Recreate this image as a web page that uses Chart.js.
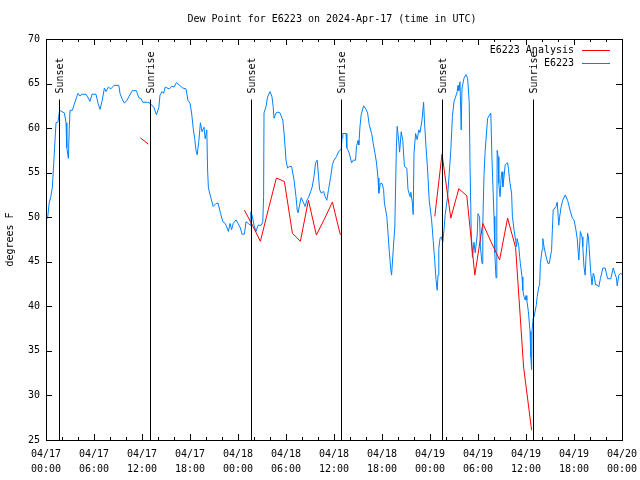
<!DOCTYPE html>
<html>
<head>
<meta charset="utf-8">
<script src="https://cdn.jsdelivr.net/npm/chart.js"></script>
<style>
  body { margin: 0; background: #fff; }
  #wrap { width: 640px; height: 480px; }
</style>
</head>
<body>
<div id="wrap"><canvas id="myChart" width="640" height="480"></canvas></div>
<script>
"use strict";

/* Data (hours since 04/17 00:00 UTC) */
const stationHours = [0,0.2,0.4,0.6,0.8,1,1.25,1.5,1.7,1.9,2.3,2.5,2.6,2.8,2.9,3,3.3,3.5,3.8,4,4.25,4.5,5,5.2,5.5,5.75,6.25,6.5,6.75,7,7.3,7.5,7.8,8.1,8.5,9.1,9.25,9.5,9.8,10.1,10.4,10.8,11.3,11.6,11.9,12.1,12.7,13,13.2,13.5,13.8,14.1,14.25,14.5,14.7,14.9,15.4,15.75,16,16.3,16.7,17.1,17.5,17.75,18,18.2,18.4,18.6,18.75,18.9,19.1,19.3,19.5,19.75,19.9,20.1,20.2,20.3,20.6,20.9,21.2,21.5,21.8,22.1,22.4,22.6,22.8,23,23.2,23.4,23.75,24,24.3,24.5,24.8,25,25.3,25.5,25.6,25.8,26,26.25,26.5,26.9,27.1,27.2,27.25,27.5,27.7,28,28.25,28.4,28.5,28.75,29,29.25,29.6,29.8,30,30.2,30.4,30.7,31,31.25,31.4,31.5,31.75,31.9,32.1,32.4,32.6,32.8,33.1,33.3,33.5,33.7,33.9,34,34.2,34.4,34.7,34.9,35.1,35.3,35.6,35.8,36,36.3,36.6,36.9,37,37.1,37.5,37.6,37.9,38.2,38.4,38.7,38.8,39,39.1,39.25,39.4,39.7,40,40.2,40.4,40.7,40.9,41.1,41.3,41.5,41.6,41.8,42,42.2,42.3,42.6,42.75,42.9,43.1,43.2,43.4,43.6,43.7,43.8,43.9,44.1,44.2,44.4,44.6,44.8,45.1,45.25,45.5,45.6,45.8,45.9,46,46.2,46.4,46.6,46.75,47,47.2,47.3,47.5,47.7,47.9,48.2,48.4,48.6,48.75,48.9,49,49.1,49.25,49.4,49.6,49.75,49.9,50.2,50.4,50.6,50.8,51,51.2,51.4,51.5,51.6,51.75,51.9,52,52.25,52.5,52.7,52.9,53,53.15,53.3,53.5,53.65,53.9,54,54.2,54.3,54.5,54.6,54.75,54.9,55.2,55.6,55.75,56,56.1,56.25,56.35,56.4,56.5,56.6,56.75,56.9,57,57.1,57.25,57.4,57.7,57.8,57.9,58,58.2,58.3,58.5,58.7,58.8,58.9,59.1,59.2,59.3,59.5,59.6,59.75,59.9,60,60.1,60.3,60.5,60.6,60.7,60.75,60.9,61,61.3,61.4,61.6,61.7,61.8,62,62.1,62.25,62.5,62.75,62.9,63.2,63.25,63.4,63.75,63.9,64.1,64.2,64.4,64.6,64.9,65.2,65.5,65.8,66,66.2,66.4,66.6,66.8,67,67.1,67.25,67.4,67.5,67.7,67.8,67.9,68.1,68.25,68.4,68.5,68.7,68.9,69.1,69.3,69.6,69.9,70.2,70.6,70.9,71.1,71.3,71.4,71.6,71.8,72];
const stationValues = [50,49.9,51.6,52.3,53.4,56.6,60.6,60.7,62,61.9,61.7,60.6,57.8,56.6,59.8,62,62,62.6,63.4,63.9,63.6,63.8,63.8,63.5,63,63.8,63.8,62.8,62.1,63,64.5,64.1,64.6,64.4,64.8,64.8,63.9,63.3,62.8,63.1,63.6,64.2,64.2,63.4,63.3,62.9,62.9,62.8,62.6,62.3,61.5,62.3,63.7,64.1,63.9,64.6,64.4,64.7,64.6,65.1,64.8,64.5,64.4,63.1,62.8,61.7,60,58.7,57.5,57,58.5,60.6,59.6,60.1,58.8,59.8,55.3,53.3,52.2,51.2,51.5,51.6,50.5,49.5,49.3,48.9,48.4,49.3,48.6,49.3,49.7,49.3,48.8,48.1,48.1,49.5,49.3,49.1,50.6,50.1,49.1,48.4,49.1,49.1,49.5,52.3,61.7,62.4,63.5,64.1,63.5,62.4,61.1,61.7,61.8,61.7,60.9,59,56.4,55.5,55.7,55.7,54.2,52.3,50.8,50.5,51.6,52.2,51.8,51.2,51.9,52.2,52.9,53.5,54.6,56.1,56.4,55.3,53.1,52.7,52.9,52.3,51.9,53,54.6,55.9,56.4,56.8,57.4,57.6,58.9,59.4,59.4,57.8,57.2,56.1,56.4,56.4,57.9,58.6,58.1,60.2,61.5,62.5,62.1,61.7,60.4,59.4,58.3,57.3,56.2,54.4,52.7,53.8,53.8,53.1,51.6,50.1,48.2,46.3,44.1,43.5,46.3,48.9,53.4,57.9,60.2,58.5,57.3,59.6,58.6,55.7,55.5,53.1,52.3,52.8,51.6,50.3,57.2,59.4,58.7,59.8,59.5,60.9,62.9,60.9,57.9,55.3,51.9,49.7,47.4,45,43,41.8,43.5,46.5,47.6,47.8,47.2,48.6,50.3,52.3,54.9,57.5,61.3,63,63.5,64.1,64.8,64.2,65.2,59.8,64.5,65.6,66,65.6,63,56,48.5,45.5,47.2,46,48,50.4,50,46.7,44.8,49.3,54.7,57.5,61.1,61.7,56.4,50.1,46,43.2,49.7,57.5,56.8,53.8,52.3,54.5,55.1,53.4,54.5,55.9,56.1,55.5,54.6,53.8,52.7,50.1,48.6,47.4,46.7,47.6,46.7,45.6,44.8,43.3,41.8,41.1,40.7,41.2,40.7,39.4,37.2,34.3,32.9,37.2,38.7,38.8,40.2,41.1,42.2,42.4,44.8,46.3,47.6,46.7,45.6,44.8,44.8,46.3,47.6,50.8,51.2,51.7,49.1,50,51.2,51.9,52.5,51.9,50.8,49.9,49.7,48.8,47.6,45.2,48.4,47.8,46.7,44.4,43.5,45.5,48.2,47.8,46.5,43.7,42.4,43.7,43.5,42.4,42.4,42.2,43.1,44.3,44.3,43.1,43.1,44.3,43.7,43.2,42.3,43.5,43.7,43.6];

/* Analysis series, null = gap */
const analysisHours = [11.8,12.8,13.3,24.8,25.8,26.8,27.8,28.8,29.8,30.8,31.8,32.8,33.8,34.8,35.8,36.8,37.3,48.6,49.5,50.6,51.6,52.6,53.6,54.6,55.6,56.7,57.7,58.7,59.7,60.7];
const analysisValues = [58.9,58.2,null,50.8,49.1,47.3,50.9,54.4,54.0,48.2,47.3,51.9,48.0,49.8,51.7,48.0,null,50.1,57.1,49.9,53.2,52.4,43.5,49.3,47.3,45.2,49.9,46.6,33.2,26.1];

const sunHours = [1.67, 13.04, 25.67, 36.92, 49.54, 60.92];
const sunLabels = ["Sunset", "Sunrise", "Sunset", "Sunrise", "Sunset", "Sunrise"];

const xTicks = [0, 6, 12, 18, 24, 30, 36, 42, 48, 54, 60, 66, 72];
const yTicks = [25, 30, 35, 40, 45, 50, 55, 60, 65, 70];

const FONT = "10px 'DejaVu Sans Mono', monospace";

function toPoints(xs, ys) {
  return xs.map((x, i) => ({ x: x, y: ys[i] }));
}

function hourLabel(v) {
  const day = 17 + Math.floor(v / 24);
  const hr = v % 24;
  return ["04/" + day, (hr < 10 ? "0" : "") + hr + ":00"];
}

/* Ram, ticks, sol-linjer, titel och legend */
const decorPlugin = {
  id: "decor",
  afterDatasetsDraw(chart) {
    const ctx = chart.ctx;
    const a = chart.chartArea;
    const xs = chart.scales.x;
    const ys = chart.scales.y;
    ctx.save();
    ctx.strokeStyle = "#000";
    ctx.lineWidth = 1;

    // sun lines
    const lineTop = Math.round(ys.getPixelForValue(63.3)) + 0.5;
    sunHours.forEach((h, i) => {
      const px = Math.round(xs.getPixelForValue(h)) + 0.5;
      ctx.beginPath();
      ctx.moveTo(px, lineTop);
      ctx.lineTo(px, a.bottom);
      ctx.stroke();
      ctx.save();
      ctx.translate(px + 1, lineTop - 6);
      ctx.rotate(-Math.PI / 2);
      ctx.font = FONT;
      ctx.fillStyle = "#000";
      ctx.textAlign = "left";
      ctx.textBaseline = "middle";
      ctx.fillText(sunLabels[i], 0, 0);
      ctx.restore();
    });

    // border
    ctx.strokeRect(Math.round(a.left) + 0.5, Math.round(a.top) + 0.5,
      Math.round(a.right - a.left), Math.round(a.bottom - a.top));

    // x ticks, every 2 hours, major every 6
    ctx.beginPath();
    for (let h = 0; h <= 72; h += 2) {
      const px = Math.round(xs.getPixelForValue(h)) + 0.5;
      const len = h % 6 === 0 ? 6 : 3;
      ctx.moveTo(px, a.bottom); ctx.lineTo(px, a.bottom - len);
      ctx.moveTo(px, a.top); ctx.lineTo(px, a.top + len);
    }
    // y ticks
    yTicks.forEach(v => {
      const py = Math.round(ys.getPixelForValue(v)) + 0.5;
      ctx.moveTo(a.left, py); ctx.lineTo(a.left + 6, py);
      ctx.moveTo(a.right, py); ctx.lineTo(a.right - 6, py);
    });
    ctx.stroke();

    // title
    ctx.font = FONT;
    ctx.fillStyle = "#000";
    ctx.textAlign = "center";
    ctx.textBaseline = "middle";
    ctx.fillText("Dew Point for E6223 on 2024-Apr-17 (time in UTC)", 332, 19);

    // y label
    ctx.save();
    ctx.translate(10, (a.top + a.bottom) / 2);
    ctx.rotate(-Math.PI / 2);
    ctx.fillText("degrees F", 0, 0);
    ctx.restore();

    // legend
    const legend = [["E6223 Analysis", "#ff0000", 50], ["E6223", "#0080ff", 63]];
    ctx.textAlign = "right";
    legend.forEach(item => {
      ctx.fillStyle = "#000";
      ctx.fillText(item[0], 574, item[2]);
      ctx.strokeStyle = item[1];
      ctx.beginPath();
      ctx.moveTo(582, item[2] + 0.5);
      ctx.lineTo(610, item[2] + 0.5);
      ctx.stroke();
    });
    ctx.restore();
  }
};

function createChart() {
  const ctx = document.getElementById("myChart");
  new Chart(ctx, {
    type: "line",
    data: {
      datasets: [{
        label: "E6223 Analysis",
        data: toPoints(analysisHours, analysisValues),
        borderColor: "#ff0000",
        borderWidth: 1,
        pointRadius: 0,
        tension: 0,
        spanGaps: false
      }, {
        label: "E6223",
        data: toPoints(stationHours, stationValues),
        borderColor: "#0080ff",
        borderWidth: 1,
        pointRadius: 0,
        tension: 0
      }]
    },
    options: {
      responsive: false,
      animation: false,
      events: [],
      layout: { padding: { left: 0, right: 18, top: 39, bottom: 0 } },
      plugins: {
        legend: { display: false },
        title: { display: false },
        tooltip: { enabled: false }
      },
      scales: {
        x: {
          type: "linear",
          min: 0,
          max: 72,
          afterBuildTicks: s => { s.ticks = xTicks.map(v => ({ value: v })); },
          afterFit: s => { s.height = 40; s.paddingLeft = 0; s.paddingRight = 0; },
          grid: { display: false, drawTicks: false },
          border: { display: false },
          ticks: {
            maxRotation: 0,
            autoSkip: false,
            padding: 7,
            color: "#000",
            font: { family: "'DejaVu Sans Mono', monospace", size: 10, lineHeight: 1.5 },
            callback: v => hourLabel(v)
          }
        },
        y: {
          min: 25,
          max: 70,
          afterBuildTicks: s => { s.ticks = yTicks.map(v => ({ value: v })); },
          afterFit: s => { s.width = 46; s.paddingTop = 0; s.paddingBottom = 0; },
          grid: { display: false, drawTicks: false },
          border: { display: false },
          ticks: {
            padding: 6,
            color: "#000",
            font: { family: "'DejaVu Sans Mono', monospace", size: 10 }
          }
        }
      }
    },
    plugins: [decorPlugin]
  });
}

window.onload = createChart;
</script>
</body>
</html>
